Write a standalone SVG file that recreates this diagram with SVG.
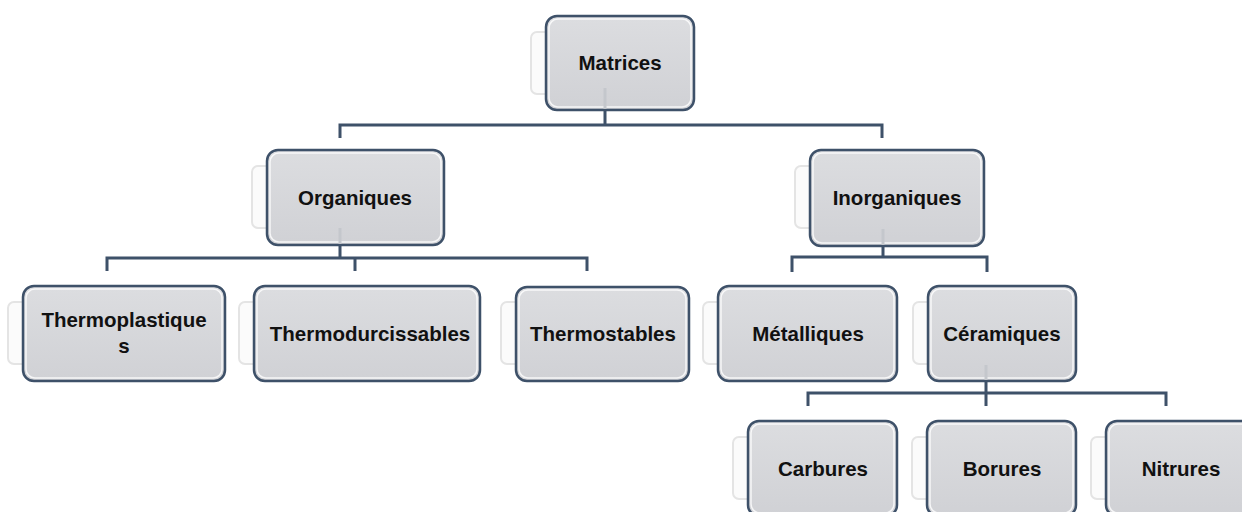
<svg xmlns="http://www.w3.org/2000/svg" width="1242" height="512" viewBox="0 0 1242 512">
<defs>
<linearGradient id="g" x1="0" y1="0" x2="0" y2="1">
<stop offset="0" stop-color="#dcdde0"/>
<stop offset="1" stop-color="#d0d1d5"/>
</linearGradient>
<style>
.box{fill:url(#g);stroke:#3e5169;stroke-width:2.5}
.hl{fill:none;stroke:#ffffff;stroke-width:1.5;opacity:0.8}
.sh{fill:#fbfbfb;stroke:#e4e4e4;stroke-width:2}
.t{font-family:"Liberation Sans",Arial,sans-serif;font-weight:bold;font-size:20.5px;fill:#111;text-anchor:middle}
.c{fill:none;stroke:#3e5169;stroke-width:3}
.ci{stroke:#c4c7cc;stroke-width:3}
</style>
</defs>
<rect width="1242" height="512" fill="#ffffff"/>
<g id="connectors">
<path class="c" d="M605 110V125M340 138V125H882V138"/>
<path class="c" d="M340 245V258M107 271V258H587V271M355 258V271"/>
<path class="c" d="M883 246V257M792 272V257H987V272"/>
<path class="c" d="M986 381V406M808 406V393H1166V406"/>
</g>
<g id="matrices">
<rect class="sh" x="531" y="32" width="140" height="62" rx="6"/>
<rect class="box" x="546" y="16" width="148" height="94" rx="11"/>
<rect class="hl" x="549" y="19" width="142" height="88" rx="9"/>
<line class="ci" x1="605" y1="88" x2="605" y2="109"/>
<text class="t" x="620" y="70">Matrices</text>
</g>
<g id="organiques">
<rect class="sh" x="252" y="166" width="170" height="62" rx="6"/>
<rect class="box" x="267" y="150" width="177" height="95" rx="11"/>
<rect class="hl" x="270" y="153" width="171" height="89" rx="9"/>
<line class="ci" x1="340" y1="228" x2="340" y2="244"/>
<text class="t" x="355" y="205">Organiques</text>
</g>
<g id="inorganiques">
<rect class="sh" x="795" y="166" width="168" height="62" rx="6"/>
<rect class="box" x="810" y="150" width="174" height="96" rx="11"/>
<rect class="hl" x="813" y="153" width="168" height="90" rx="9"/>
<line class="ci" x1="883" y1="229" x2="883" y2="245"/>
<text class="t" x="897" y="205">Inorganiques</text>
</g>
<g id="thermoplastiques">
<rect class="sh" x="8" y="302" width="195" height="62" rx="6"/>
<rect class="box" x="23" y="286" width="202" height="95" rx="11"/>
<rect class="hl" x="26" y="289" width="196" height="89" rx="9"/>
<text class="t" x="124" y="327">Thermoplastique</text>
<text class="t" x="124" y="353">s</text>
</g>
<g id="thermodurcissables">
<rect class="sh" x="239" y="302" width="220" height="62" rx="6"/>
<rect class="box" x="254" y="286" width="226" height="95" rx="11"/>
<rect class="hl" x="257" y="289" width="220" height="89" rx="9"/>
<text class="t" x="370" y="341">Thermodurcissables</text>
</g>
<g id="thermostables">
<rect class="sh" x="501" y="302" width="166" height="62" rx="6"/>
<rect class="box" x="516" y="287" width="173" height="94" rx="11"/>
<rect class="hl" x="519" y="290" width="167" height="88" rx="9"/>
<text class="t" x="603" y="341">Thermostables</text>
</g>
<g id="metalliques">
<rect class="sh" x="703" y="302" width="172" height="62" rx="6"/>
<rect class="box" x="718" y="286" width="179" height="95" rx="11"/>
<rect class="hl" x="721" y="289" width="173" height="89" rx="9"/>
<text class="t" x="808" y="341">Métalliques</text>
</g>
<g id="ceramiques">
<rect class="sh" x="913" y="302" width="142" height="62" rx="6"/>
<rect class="box" x="928" y="286" width="148" height="95" rx="11"/>
<rect class="hl" x="931" y="289" width="142" height="89" rx="9"/>
<line class="ci" x1="986" y1="365" x2="986" y2="380"/>
<text class="t" x="1002" y="341">Céramiques</text>
</g>
<g id="carbures">
<rect class="sh" x="733" y="437" width="142" height="62" rx="6"/>
<rect class="box" x="748" y="421" width="149" height="95" rx="11"/>
<rect class="hl" x="751" y="424" width="143" height="89" rx="9"/>
<text class="t" x="823" y="476">Carbures</text>
</g>
<g id="borures">
<rect class="sh" x="912" y="437" width="142" height="62" rx="6"/>
<rect class="box" x="927" y="421" width="149" height="95" rx="11"/>
<rect class="hl" x="930" y="424" width="143" height="89" rx="9"/>
<text class="t" x="1002" y="476">Borures</text>
</g>
<g id="nitrures">
<rect class="sh" x="1091" y="437" width="142" height="62" rx="6"/>
<rect class="box" x="1106" y="421" width="149" height="95" rx="11"/>
<rect class="hl" x="1109" y="424" width="143" height="89" rx="9"/>
<text class="t" x="1181" y="476">Nitrures</text>
</g>
</svg>
